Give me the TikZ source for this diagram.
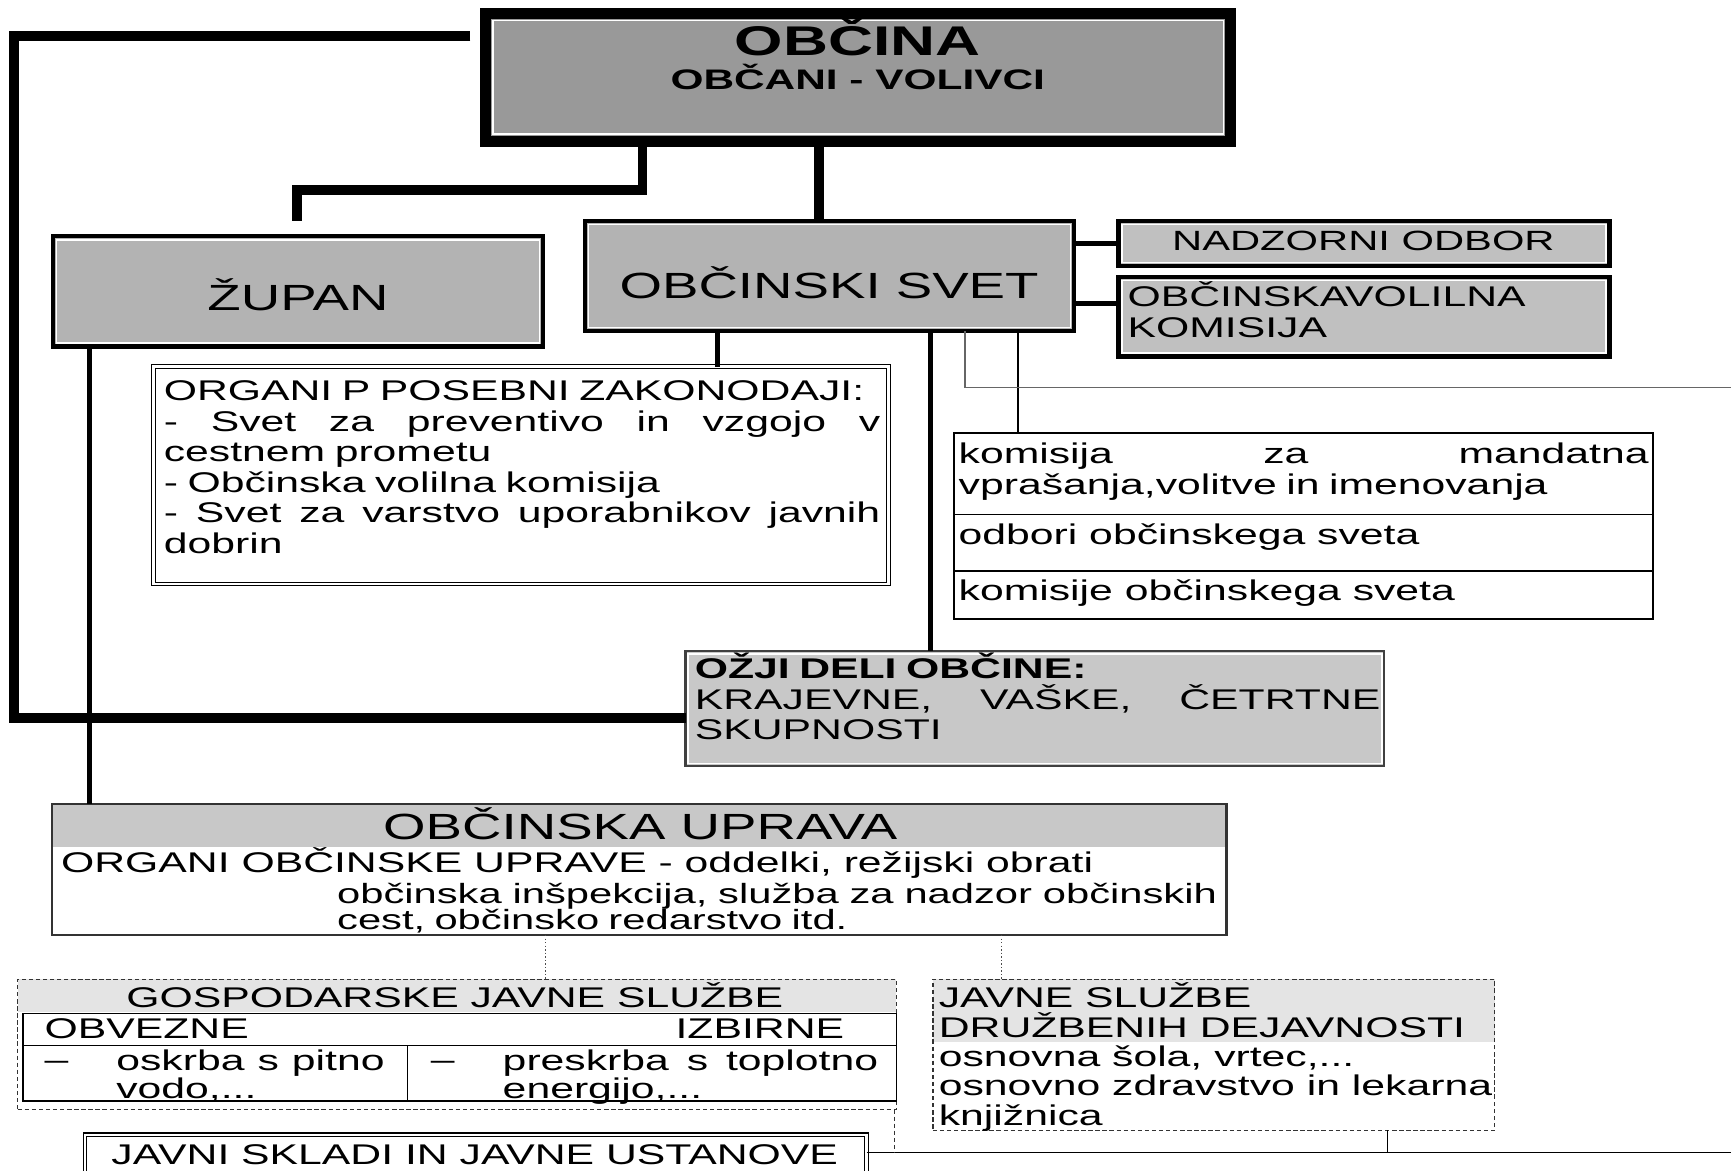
\documentclass[tikz,border=0pt]{standalone}
\usepackage{fontspec}
\setmainfont{Liberation Sans}[FakeStretch=1.5]
\setlength\parindent{0pt}
\definecolor{grayA}{HTML}{999999}
\definecolor{grayB}{HTML}{B3B3B3}
\definecolor{grayC}{HTML}{C0C0C0}
\definecolor{grayD}{HTML}{C8C8C8}
\definecolor{grayE}{HTML}{E4E4E4}
\newcommand\jline[2]{\leavevmode\hbox to #1{#2}}
\tikzset{
  box/.style={draw, rectangle, anchor=north west, inner sep=0pt, outer sep=0pt},
  rim/.style={path picture={\draw[white,line width=0.7pt]
      ([shift={(#1,-#1)}]path picture bounding box.north west) rectangle
      ([shift={(-#1,#1)}]path picture bounding box.south east);}},
  band/.style 2 args={path picture={\fill[#1]
      (path picture bounding box.north west) rectangle
      ([yshift=-#2]path picture bounding box.north east);}},
  rail/.style={line width=4.5pt},
  link/.style={line width=2pt},
  thinlink/.style={line width=0.6pt},
  dots/.style={densely dotted, line width=0.6pt, black!70},
  dashbox/.style={box, dash pattern=on 2pt off 1.2pt, line width=0.6pt, draw=black!80},
  txt/.style={font=\fontsize{12.9}{13.8}\selectfont, inner sep=0pt},
  para/.style={txt, anchor=north west, align=left, execute at begin node={\rule{0pt}{11.8pt}}},
  big/.style={font=\fontsize{16.5}{18}\selectfont, inner sep=0pt, anchor=base}
}
\begin{document}
\begin{tikzpicture}[x=0.5pt,y=-0.5pt]
  \useasboundingbox (0,0) rectangle (1568,1060);

  \node[box, line width=5pt, fill=grayA, rim=3.3pt, minimum width=337.5pt, minimum height=58pt] (obcina) at (440,12) {};
  \node[box, line width=2pt, fill=grayB, rim=1.6pt, minimum width=222pt, minimum height=50pt] (zupan) at (48,214) {};
  \node[box, line width=2pt, fill=grayB, rim=1.6pt, minimum width=221.5pt, minimum height=50pt] (svet) at (530,200) {};
  \node[box, line width=2pt, fill=grayC, rim=1.6pt, minimum width=222.5pt, minimum height=20.5pt] (nadzor) at (1013,200) {};
  \node[box, line width=2pt, fill=grayC, rim=1.6pt, minimum width=222.5pt, minimum height=36pt] (volilna) at (1013,251) {};
  \node[box, double, double distance=1.2pt, line width=0.5pt, fill=white, minimum width=333pt, minimum height=98.5pt] (organi) at (139,332) {};
  \node[box, line width=0.8pt, minimum width=316.5pt, minimum height=37pt] (komis1) at (864,392) {};
  \node[box, line width=0.8pt, minimum width=316.5pt, minimum height=25.5pt] (komis2) at (864,466) {};
  \node[box, line width=0.8pt, minimum width=316.5pt, minimum height=22pt] (komis3) at (864,517) {};
  \node[box, line width=1pt, draw=black!75, fill=grayD, rim=1.2pt, minimum width=316.5pt, minimum height=52pt] (ozji) at (621,590) {};
  \node[box, line width=1pt, draw=black!80, band={grayD}{19.5pt}, minimum width=532pt, minimum height=59.5pt] (uprava) at (47,728) {};
  \node[dashbox, band={grayE}{15pt}, minimum width=398pt, minimum height=59pt] (gosp) at (16,887) {};
  \node[box, line width=0.8pt, minimum width=395.5pt, minimum height=39.5pt] (gtab) at (21,918) {};
  \node[dashbox, band={grayE}{28.5pt}, minimum width=254.5pt, minimum height=68.5pt] (druz) at (845,887) {};
  \node[box, double, double distance=1.2pt, line width=0.5pt, fill=white, minimum width=354pt, minimum height=30pt] (skladi) at (77,1028) {};

  \draw ([shift={(0,29)}]gtab.north west) -- ([shift={(0,29)}]gtab.north east);
  \draw ([shift={(348,29)}]gtab.north west) -- ([shift={(348,0)}]gtab.south west);

  \node[anchor=base, inner sep=0pt, font=\fontsize{18.8}{20}\selectfont\bfseries] (t-obcina) at (777,50) {OBČINA};
  \node[txt, anchor=base, font=\fontsize{12.8}{14}\selectfont\bfseries] (t-volivci) at (777,81) {OBČANI - VOLIVCI};
  \node[big] (t-zupan) at (270,281) {ŽUPAN};
  \node[big] (t-svet) at (751,270) {OBČINSKI SVET};
  \node[txt, anchor=base, font=\fontsize{12.6}{14}\selectfont] (t-nadzor) at (1235,227) {NADZORNI ODBOR};
  \node[para] (t-volilna) at (1021,255) {OBČINSKAVOLILNA\\KOMISIJA};
  \node[para, text width=324.5pt] (t-organi) at (148,339) {ORGANI P POSEBNI ZAKONODAJI:\\
    \jline{324.5pt}{- \hfill Svet \hfill za \hfill preventivo \hfill in \hfill vzgojo \hfill v}\\
    cestnem prometu\\
    - Občinska volilna komisija\\
    \jline{324.5pt}{- \hfill Svet \hfill za \hfill varstvo \hfill uporabnikov \hfill javnih}\\
    dobrin};
  \node[para, text width=312.5pt] (t-komis1) at (868,396) {\jline{312.5pt}{komisija \hfill za \hfill mandatna}\\
    vprašanja,volitve in imenovanja};
  \node[txt, anchor=base west] (t-komis2) at (868,493) {odbori občinskega sveta};
  \node[txt, anchor=base west] (t-komis3) at (868,544) {komisije občinskega sveta};
  \node[para, text width=310.5pt] (t-ozji) at (629,591) {\textbf{OŽJI DELI OBČINE:}\\
    \jline{310.5pt}{KRAJEVNE, \hfill VAŠKE, \hfill ČETRTNE}\\
    SKUPNOSTI};
  \node[big] (t-uprava) at (580,760) {OBČINSKA UPRAVA};
  \node[txt, anchor=base west] (t-organiup) at (55,790) {ORGANI OBČINSKE UPRAVE - oddelki, režijski obrati};
  \node[para, text width=398.5pt, font=\fontsize{12.6}{12}\selectfont] (t-inspekcija) at (305,794) {\jline{398.5pt}{občinska \hfill inšpekcija, \hfill služba \hfill za \hfill nadzor \hfill občinskih}\\
    cest, občinsko redarstvo itd.};
  \node[txt, anchor=base] (t-gosp) at (412,913) {GOSPODARSKE JAVNE SLUŽBE};
  \node[txt, anchor=base west] (t-obvezne) at (40,941) {OBVEZNE};
  \node[txt, anchor=base east] (t-izbirne) at (765,941) {IZBIRNE};
  \node[txt, anchor=base west] (t-dash1) at (40,969) {–};
  \node[txt, anchor=base west] (t-dash2) at (390,969) {–};
  \node[para, text width=121.5pt, font=\fontsize{12.9}{12.5}\selectfont] (t-voda) at (105,946) {\jline{121.5pt}{oskrba \hfill s \hfill pitno}\\vodo,...};
  \node[para, text width=170pt, font=\fontsize{12.9}{12.5}\selectfont] (t-toplota) at (455,946) {\jline{170pt}{preskrba \hfill s \hfill toplotno}\\energijo,...};
  \node[para, font=\fontsize{12.9}{13.3}\selectfont] (t-druz) at (850,890) {JAVNE SLUŽBE\\
    DRUŽBENIH DEJAVNOSTI\\
    osnovna šola, vrtec,...\\
    osnovno zdravstvo in lekarna\\
    knjižnica};
  \node[txt, anchor=base] (t-skladi) at (430,1055) {JAVNI SKLADI IN JAVNE USTANOVE};

  \coordinate (railtop) at (13,33);
  \coordinate (railbot) at (13,650);
  \draw[rail] ([shift={(-14,21)}]obcina.north west) -- (railtop) -- (railbot) -- (railbot -| ozji.west);
  \draw[rail] ([shift={(142,0)}]obcina.south west) |- ([shift={(221,-42)}]zupan.north west) -- ([shift={(221,-14)}]zupan.north west);
  \draw[rail] ([shift={(302,0)}]obcina.south west) -- ([shift={(212,0)}]svet.north west);

  \coordinate (vk) at ([shift={(0,24)}]volilna.north west);
  \draw[link] (nadzor.west) -- (nadzor.west -| svet.east);
  \draw[link] (vk) -- (vk -| svet.east);

  \coordinate (sv-org) at ([shift={(120,0)}]svet.south west);
  \coordinate (sv-ozji) at ([shift={(313,0)}]svet.south west);
  \coordinate (sv-kom) at ([shift={(392,0)}]svet.south west);
  \coordinate (sv-edge) at ([shift={(344,0)}]svet.south west);
  \coordinate (redge) at (1568,351);
  \draw[link] (sv-org) -- (sv-org |- organi.north);
  \draw[line width=2.5pt] (sv-ozji) -- (sv-ozji |- ozji.north);
  \draw[thinlink] (sv-kom) -- (sv-kom |- komis1.north);
  \draw[thinlink, black!60] (sv-edge) |- (redge);

  \coordinate (zu-upr) at ([shift={(33,0)}]zupan.south west);
  \draw[line width=2.5pt] (zu-upr) -- (zu-upr |- uprava.north);

  \coordinate (up-g) at ([shift={(447,0)}]uprava.south west);
  \coordinate (up-d) at ([shift={(860,0)}]uprava.south west);
  \draw[dots] (up-g) -- (up-g |- gosp.north);
  \draw[dots] (up-d) -- (up-d |- druz.north);

  \coordinate (bedge) at (1568,1044);
  \coordinate (sk) at ([shift={(0,16)}]skladi.north east);
  \coordinate (dz) at ([shift={(-97,0)}]druz.south east);
  \coordinate (gs) at ([shift={(-2,0)}]gosp.south east);
  \draw[thinlink] (sk) -- (bedge);
  \draw[thinlink] (dz) -- (dz |- bedge);
  \draw[thinlink, dash pattern=on 2pt off 1.2pt, black!80] (gs) -- (gs |- bedge);
\end{tikzpicture}
\end{document}
